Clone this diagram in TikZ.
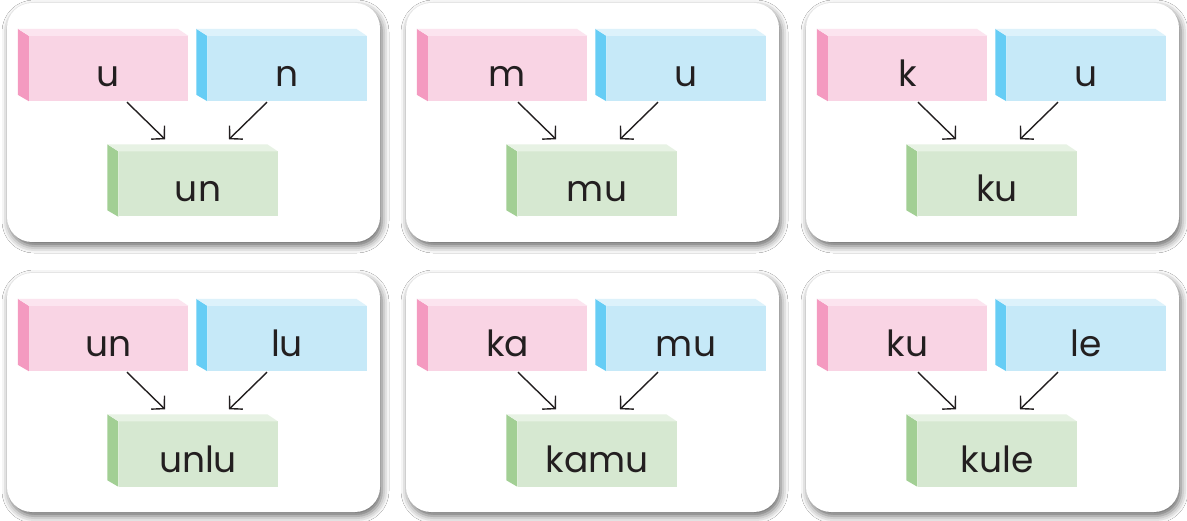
\documentclass[tikz,border=0pt]{standalone}
\usepackage{fontspec}
\newfontfamily\okul{Poppins}
\usetikzlibrary{arrows.meta,calc,shadows.blur}
\definecolor{pembe}{HTML}{F9D4E4}
\definecolor{pembeust}{HTML}{FCE4EF}
\definecolor{pembeyan}{HTML}{F49AC0}
\definecolor{mavi}{HTML}{C6E9F8}
\definecolor{maviust}{HTML}{DDF2FB}
\definecolor{maviyan}{HTML}{66CDF5}
\definecolor{yesil}{HTML}{D6E8D1}
\definecolor{yesilust}{HTML}{E7F2E4}
\definecolor{yesilyan}{HTML}{A2CF94}
\definecolor{yazi}{HTML}{231F20}
\tikzset{
  kart/.style={fill=white, rounded corners=25pt,
               blur shadow={shadow xshift=2pt, shadow yshift=-4pt,
                            shadow blur radius=7pt, shadow opacity=60}},
  blok/.style={minimum width=159pt, minimum height=65pt, inner sep=0pt,
               text height=36pt, text depth=0pt, text=yazi,
               font=\okul\fontsize{36}{36}\selectfont},
  ok/.style={-{Straight Barb[length=9pt,width=19pt]}, line width=1.4pt, yazi},
}
\newcommand{\blok}[4]{%
  \node[blok, fill=#3] (#1) at (#2) {#4};
  \fill[#3yan] (#1.north west) -- ++(-11,-7) -- ++(0,66) -- (#1.south west) -- cycle;
  \fill[#3ust] (#1.north west) -- ++(-11,-7) -- ++(160,0) -- (#1.north east) -- cycle;}
% #1 arrow shift, #2 name, #3 shift, #4 left, #5 right, #6 result
\newcommand{\kart}[6][0]{%
  \begin{scope}[shift={(#3)}]
    \fill[kart] (7,3) rectangle (380,242);
    \blok{#2a}{108.5,68.5}{pembe}{#4}
    \blok{#2b}{287,68.5}{mavi}{#5}
    \blok{#2c}{198,184}{yesil}{#6}
    \draw[ok] ($(#2a.south)+(18.5+#1,1)$) -- ($(#2c.north)+(-33+#1,-12)$);
    \draw[ok] ($(#2b.south)+(-20+#1,1)$) -- ($(#2c.north)+(31+#1,-12)$);
  \end{scope}}

\begin{document}
\begin{tikzpicture}[x=1pt, y=-1pt]
  \useasboundingbox[fill=white] (0,0) rectangle (1187,521);
  % top row
  \kart{un}{0,0}{u}{n}{un}
  \kart[-8]{mu}{399,0}{m}{u}{mu}
  \kart[-8]{ku}{799,0}{k}{u}{ku}
  % bottom row
  \kart{unlu}{0,270}{un}{lu}{unlu}
  \kart[-8]{kamu}{399,270}{ka}{mu}{kamu}
  \kart[-8]{kule}{799,270}{ku}{le}{kule}
\end{tikzpicture}
\end{document}
